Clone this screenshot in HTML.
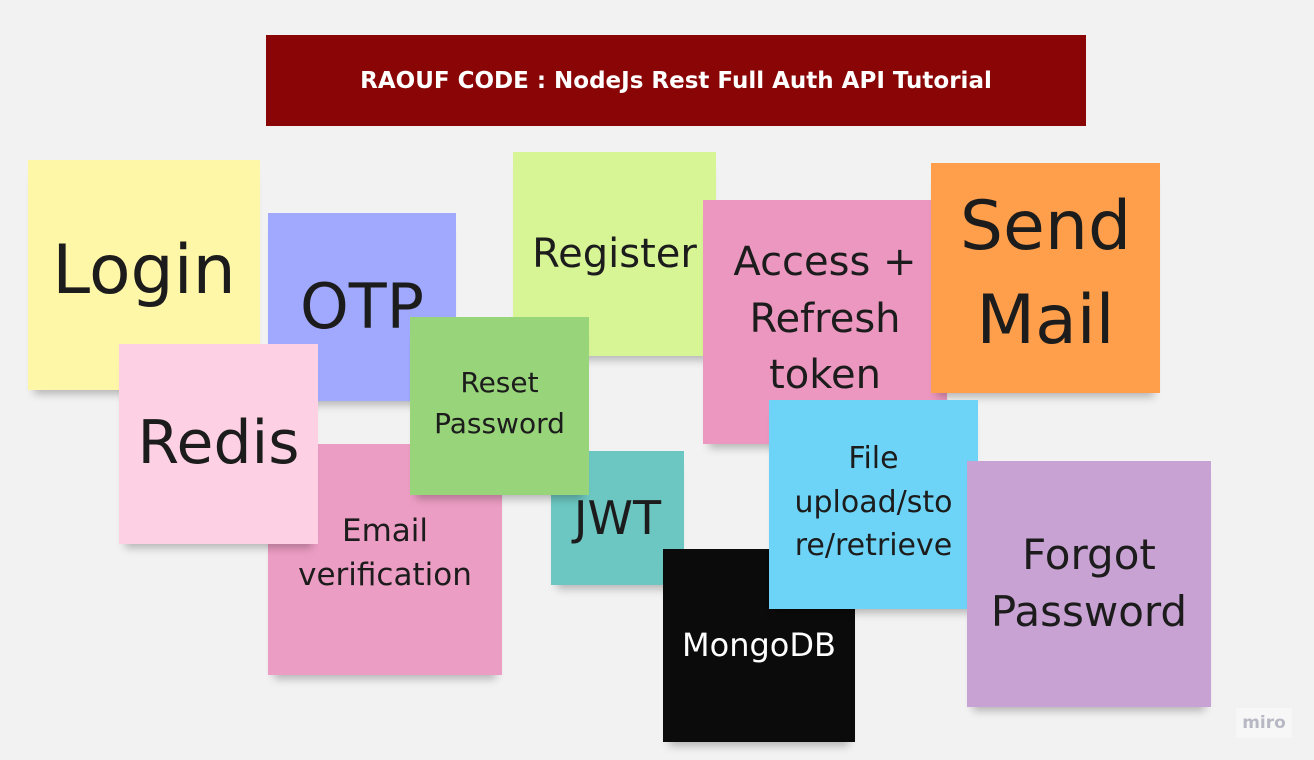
<!DOCTYPE html>
<html><head><meta charset="utf-8"><style>
body{margin:0;width:1314px;height:760px;background:#f2f2f2;position:relative;overflow:hidden;font-family:"DejaVu Sans","Liberation Sans",sans-serif}
.n{position:absolute;display:flex;align-items:center;justify-content:center;text-align:center;color:#1c1c1c;box-shadow:0 10px 8px -6px rgba(0,0,0,.25);line-height:1.22}
.t{position:absolute;left:266px;top:35px;width:820px;height:91px;background:#8a0505;color:#fff;display:flex;align-items:center;justify-content:center;font:900 23px "DejaVu Sans",sans-serif;letter-spacing:0}
</style></head><body>
<div class="t">RAOUF CODE : NodeJs Rest Full Auth API Tutorial</div>
<div class="n" style="left:28px;top:160px;width:232px;height:230px;background:#fff7a8;font-size:68px"><span style="margin-top:-8px">Login</span></div>
<div class="n" style="left:268px;top:213px;width:188px;height:188px;background:#a0a9fd;font-size:62px">OTP</div>
<div class="n" style="left:513px;top:152px;width:203px;height:204px;background:#d8f596;font-size:40px;align-items:flex-start;padding-top:0"><span style="margin-top:78px">Register</span></div>
<div class="n" style="left:703px;top:200px;width:244px;height:244px;background:#eb97bf;font-size:40px;line-height:1.42"><span style="margin-top:-6px">Access +<br>Refresh<br>token</span></div>
<div class="n" style="left:931px;top:163px;width:229px;height:230px;background:#ff9f4c;font-size:68px;line-height:1.38"><span style="margin-top:-8px">Send<br>Mail</span></div>
<div class="n" style="left:268px;top:444px;width:234px;height:231px;background:#ec9dc3;font-size:31px;line-height:1.4"><span style="margin-top:-12px">Email<br>verification</span></div>
<div class="n" style="left:119px;top:344px;width:199px;height:200px;background:#fdd0e4;font-size:60px">Redis</div>
<div class="n" style="left:551px;top:451px;width:133px;height:134px;background:#6cc7c2;font-size:46px">JWT</div>
<div class="n" style="left:410px;top:317px;width:179px;height:178px;background:#98d47a;font-size:28px;line-height:1.45"><span style="margin-top:-4px">Reset<br>Password</span></div>
<div class="n" style="left:663px;top:549px;width:192px;height:193px;background:#0b0b0b;color:#fff;font-size:32px">MongoDB</div>
<div class="n" style="left:769px;top:400px;width:209px;height:209px;background:#6dd4f7;font-size:30px;line-height:1.45"><span style="margin-top:-4px">File<br>upload/sto<br>re/retrieve</span></div>
<div class="n" style="left:967px;top:461px;width:244px;height:246px;background:#c8a2d3;font-size:42px;line-height:1.35">Forgot<br>Password</div>
<div style="position:absolute;left:1236px;top:708px;width:56px;height:30px;background:#f7f7f7;color:#b8b8c4;font:bold 17px 'DejaVu Sans',sans-serif;display:flex;align-items:center;justify-content:center">miro</div>
</body></html>
